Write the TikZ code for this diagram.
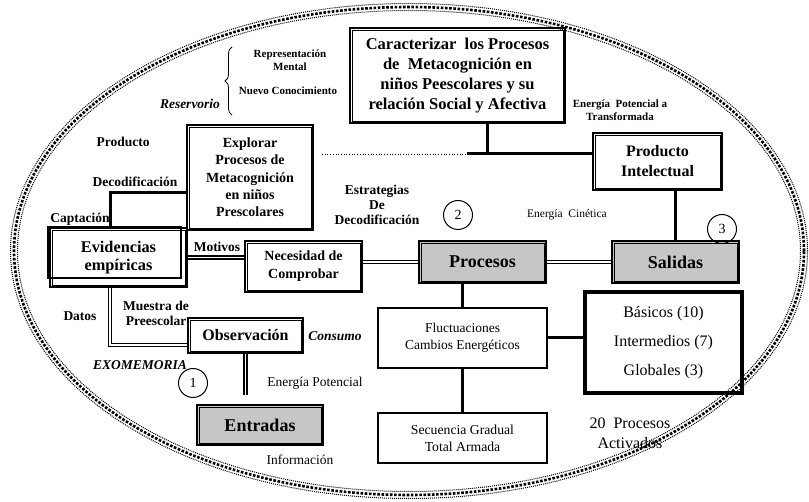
\documentclass[tikz,border=0pt]{standalone}
\usepackage{fontspec}
\setmainfont{Liberation Serif}
\usetikzlibrary{decorations.pathreplacing}

\tikzset{
  box/.style={draw, line width=2.4pt, align=center, inner sep=0pt},
  gbox/.style={box, fill=gray!45},
  pbox/.style={draw, line width=2.4pt, align=center, inner sep=0pt},
  conn/.style={line width=3pt},
  dbl/.style={line width=1.4pt, double, double distance=1.8pt},
  num/.style={draw, circle, line width=1pt, minimum size=29pt, inner sep=0pt, font=\fontsize{14}{14}\selectfont},
  lbl/.style={align=center, font=\bfseries\fontsize{13.5}{15}\selectfont},
  slbl/.style={align=center, font=\bfseries\fontsize{11}{13}\selectfont},
  ilbl/.style={align=center, font=\bfseries\itshape\fontsize{13.5}{15}\selectfont},
  txt/.style={align=center, font=\fontsize{13.5}{17}\selectfont},
  rim/.style={line width=1pt, dash pattern=on 1pt off 1pt},
}

\begin{document}
\begin{tikzpicture}[x=1pt, y=-1pt]
    \useasboundingbox (0,0) rectangle (809,502);

    \draw[rim] (409,251) ellipse [x radius=398.5pt, y radius=247.5pt];
    \draw[line width=2.6pt, dash pattern=on 2.6pt off 1.6pt] (409,251) ellipse [x radius=395pt, y radius=244pt];
    \draw[rim] (409,251) ellipse [x radius=391.5pt, y radius=240.5pt];

    \node[box, minimum width=215pt, minimum height=95pt, font=\bfseries\fontsize{16.5}{20}\selectfont] (car) at (457.5,75.5)
        {Caracterizar\ \ los Procesos\\de\ \ Metacognición en\\niños Peescolares y su\\relación Social y Afectiva};
    \node[box, minimum width=126pt, minimum height=105pt, font=\bfseries\fontsize{14}{17.3}\selectfont] (exp) at (250,177.5)
        {Explorar\\Procesos de\\Metacognición\\en niños\\Prescolares};
    \node[box, minimum width=129pt, minimum height=57pt, font=\bfseries\fontsize{16}{20}\selectfont] (prod) at (657.5,161.5)
        {Producto\\Intelectual};
    \node[box, minimum width=137pt, minimum height=59pt, font=\bfseries\fontsize{16.3}{18}\selectfont] (evi) at (118.5,257.5)
        {Evidencias\\empíricas};
    \node[box, minimum width=117pt, minimum height=51pt, font=\bfseries\fontsize{14}{18}\selectfont] (nec) at (303.5,266.5)
        {Necesidad de\\Comprobar};
    \node[gbox, minimum width=127pt, minimum height=42pt, font=\bfseries\fontsize{18}{20}\selectfont] (pro) at (482.5,262) {Procesos};
    \node[gbox, minimum width=127pt, minimum height=42pt, font=\bfseries\fontsize{18}{20}\selectfont] (sal) at (675.5,262) {Salidas};
    \node[box, minimum width=115pt, minimum height=35pt, font=\bfseries\fontsize{16}{18}\selectfont] (obs) at (245.5,335.5) {Observación};
    \node[gbox, minimum width=126pt, minimum height=40pt, font=\bfseries\fontsize{18}{20}\selectfont] (ent) at (260,425) {Entradas};
    \node[pbox, minimum width=169pt, minimum height=60pt, font=\fontsize{13.5}{17}\selectfont] (flu) at (462.5,338)
        {Fluctuaciones\\Cambios Energéticos};
    \node[pbox, minimum width=169pt, minimum height=50pt, font=\fontsize{13.7}{17}\selectfont] (sec) at (462.5,438)
        {Secuencia Gradual\\Total Armada};
    \node[pbox, line width=4pt, minimum width=157pt, minimum height=101pt, font=\fontsize{16}{29}\selectfont] (bas) at (663.5,342.5)
        {Básicos (10)\\Intermedios (7)\\Globales (3)};

    \foreach \n in {car,exp,prod,evi,nec,pro,sal,obs,ent}
        \draw[line width=0.9pt] ([xshift=3.2pt,yshift=-3.2pt]\n.north west) rectangle ([xshift=-3.2pt,yshift=3.2pt]\n.south east);
    \draw[line width=1.8pt] ([xshift=-1pt]evi.north west) rectangle ([xshift=-7pt,yshift=10pt]evi.south east);

    \coordinate (cj) at (487,154);
    \coordinate (dl) at (322,154);
    \coordinate (tl) at (467,154);
    \coordinate (ec) at (110,193);
    \coordinate (ed) at (110,345);
    \coordinate (oe) at (245.5,395);

    \draw[conn] (cj |- car.south) -- (cj);
    \draw[conn] (tl) -- (tl -| prod.west);
    \draw[dotted, line width=0.7pt] (dl) -- (tl);
    \draw[conn] (prod.south -| sal.north) -- (sal.north);
    \draw[conn] (exp.west |- ec) -- (ec) -- (ec |- evi.north);
    \draw[dbl] (evi.east) -- (evi.east -| nec.west);
    \draw[dbl] (nec.east |- pro.west) -- (pro.west);
    \draw[dbl] (pro) -- (sal);
    \draw[dbl] (ed |- evi.south) -- (ed) -- (ed -| obs.west);
    \draw[dbl] (obs.south) -- (obs.south |- oe);
    \draw[conn] (flu.north) -- (flu.north |- pro.south);
    \draw[conn] (flu.south) -- (sec.north);
    \draw[conn] (flu.east) -- (flu.east -| bas.west);

    \draw[decorate, decoration={brace, amplitude=7pt}, line width=0.8pt] (232,115) -- (232,47);
    \node[slbl] (rep) at (290,60) {Representación\\Mental};
    \node[slbl] (nue) at (288,91) {Nuevo Conocimiento};
    \node[ilbl] (res) at (190,104) {Reservorio};
    \node[lbl] (pdt) at (123,142) {Producto};
    \node[lbl] (dec) at (135,182) {Decodificación};
    \node[lbl] (cap) at (80,219) {Captación};
    \node[lbl] (est) at (377,205) {Estrategias\\De\\Decodificación};
    \node[num] (c2) at (458,215) {2};
    \node[txt, font=\fontsize{11.5}{14}\selectfont] (cin) at (567,215) {Energía\ \ Cinética};
    \node[num] (c3) at (722,229) {3};
    \node[slbl] (pot) at (620,110) {Energía\ \ Potencial a\\Transformada};
    \node[lbl] (mot) at (217,247) {Motivos};
    \node[lbl] (dat) at (80,316) {Datos};
    \node[lbl] (mue) at (156,313) {Muestra de\\Preescolar};
    \node[ilbl] (con) at (335,336) {Consumo};
    \node[ilbl] (exo) at (140,365) {EXOMEMORIA};
    \node[num] (c1) at (193,383) {1};
    \node[txt] (epo) at (315,383) {Energía Potencial};
    \node[txt] (inf) at (300,460) {Información};
    \node[txt, font=\fontsize{16}{20}\selectfont] (act) at (630,433) {20\ \ Procesos\\Activados};
\end{tikzpicture}
\end{document}
